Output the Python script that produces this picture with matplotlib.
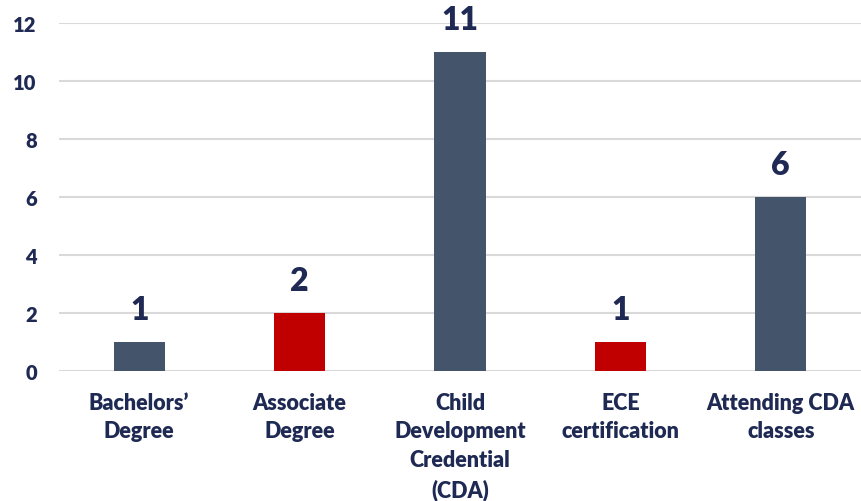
import matplotlib.pyplot as plt

categories = ["Bachelors\u2019\nDegree", "Associate\nDegree", "Child\nDevelopment\nCredential\n(CDA)",
              "ECE\ncertification", "Attending CDA\nclasses"]
values = [1, 2, 11, 1, 6]
colors = ['#44546A', '#C00000', '#44546A', '#C00000', '#44546A']

text_color = '#1F2A54'
plt.rcParams['font.family'] = ['Lato', 'DejaVu Sans']

fig = plt.figure(figsize=(8.61, 5.02), dpi=100)
ax = fig.add_axes([0.0685, 0.259, 0.9315, 0.693])

x = range(len(values))
ax.bar(x, values, width=0.32, color=colors, zorder=3)

for i, v in enumerate(values):
    ax.text(i, v + 0.62, str(v), ha='center', va='bottom', fontsize=23,
            fontweight='heavy', color=text_color, clip_on=False)

ax.set_xlim(-0.5, 4.5)
ax.set_ylim(0, 12)
ax.set_yticks(range(0, 13, 2))
ax.set_xticks(list(x))
ax.set_xticklabels(categories, fontsize=15.5, fontweight='heavy', color=text_color,
                   linespacing=1.45, va='top')
ax.tick_params(axis='y', labelsize=14.5, labelcolor=text_color, length=0, pad=16)
ax.tick_params(axis='x', length=0, pad=15)
for lab in ax.get_yticklabels():
    lab.set_fontweight('heavy')

ax.grid(axis='y', color='#D9D9D9', linewidth=1.5, zorder=0)
for s in ax.spines.values():
    s.set_visible(False)

fig.savefig('out.png', dpi=100)
